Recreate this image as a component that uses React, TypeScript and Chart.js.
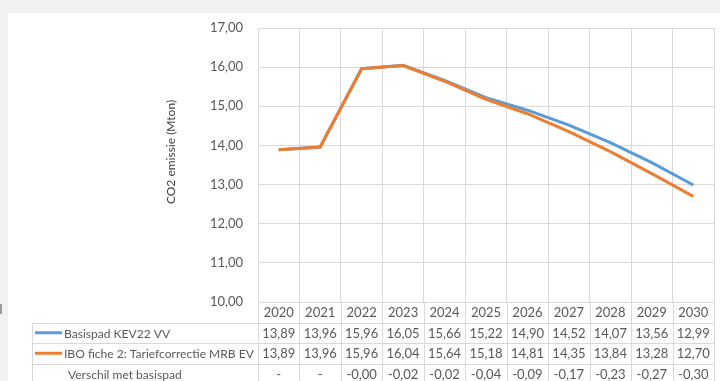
import React, { useEffect, useRef } from 'react';
import { Chart, registerables } from 'chart.js';

Chart.register(...registerables);

const years = ['2020', '2021', '2022', '2023', '2024', '2025', '2026', '2027', '2028', '2029', '2030'];
const basispad = [13.89, 13.96, 15.96, 16.05, 15.66, 15.22, 14.90, 14.52, 14.07, 13.56, 12.99];
const ibo = [13.89, 13.96, 15.96, 16.04, 15.64, 15.18, 14.81, 14.35, 13.84, 13.28, 12.70];
const verschil = ['-', '-', '-0,00', '-0,02', '-0,02', '-0,04', '-0,09', '-0,17', '-0,23', '-0,27', '-0,30'];
const seriesNames = ['Basispad KEV22 VV', 'IBO fiche 2: Tariefcorrectie MRB EV', 'Verschil met basispad'];
const yTitle = 'CO2 emissie (Mton)';

const BLUE = '#5b9bd5';
const ORANGE = '#ed7d31';
const GRID = '#d9d9d9';
const TEXT = '#595959';
const FONT = 'Lato, "Open Sans", sans-serif';

const fmt = (v: number) => v.toFixed(2).replace('.', ',');

const tablePlugin = {
  id: 'dataTable',
  beforeDraw(chart: any) {
    const { ctx, width, height } = chart;
    ctx.save();
    ctx.fillStyle = '#f2f2f2';
    ctx.fillRect(0, 0, width, height);
    ctx.fillStyle = '#ffffff';
    ctx.fillRect(8, 13, width - 8, height - 13);
    ctx.fillStyle = '#9a9a9a';
    ctx.fillRect(0, 304, 2, 10);
    ctx.restore();
  },
  afterDraw(chart: any) {
    const { ctx, chartArea, height } = chart;
    const xs = chart.scales.x;
    const n = years.length;
    const half = (xs.getPixelForValue(1) - xs.getPixelForValue(0)) / 2;
    const bounds: number[] = [];
    for (let i = 0; i < n; i++) bounds.push(xs.getPixelForValue(i) - half);
    bounds.push(xs.getPixelForValue(n - 1) + half);
    const top = chartArea.bottom;
    const rowH = 20.5;
    const rows = [top, top + rowH, top + 2 * rowH, top + 3 * rowH, top + 4 * rowH];
    const tableLeft = 32;

    ctx.save();
    ctx.strokeStyle = GRID;
    ctx.lineWidth = 1;
    ctx.beginPath();
    for (const b of bounds) {
      const bx = Math.round(b) + 0.5;
      ctx.moveTo(bx, top);
      ctx.lineTo(bx, height);
    }
    ctx.moveTo(tableLeft + 0.5, Math.round(rows[1]) + 0.5);
    ctx.lineTo(tableLeft + 0.5, height);
    for (let r = 1; r <= 3; r++) {
      const ry = Math.round(rows[r]) + 0.5;
      ctx.moveTo(tableLeft, ry);
      ctx.lineTo(Math.round(bounds[n]) + 1, ry);
    }
    ctx.stroke();

    ctx.font = `13px ${FONT}`;
    ctx.fillStyle = TEXT;
    ctx.textBaseline = 'middle';
    ctx.textAlign = 'center';
    const rowData = [years, basispad.map(fmt), ibo.map(fmt), verschil];
    rowData.forEach((arr, r) => {
      const cy = (rows[r] + rows[r + 1]) / 2 + 1;
      arr.forEach((t, i) => {
        ctx.fillText(t, xs.getPixelForValue(i), cy);
      });
    });

    // legend column: fit longest name into the available width
    const longest = ctx.measureText(seriesNames[1]).width;
    const legSize = Math.min(13, (13 * 190) / longest);
    ctx.font = `${legSize}px ${FONT}`;
    ctx.textAlign = 'left';
    const legendColors = [BLUE, ORANGE, null];
    seriesNames.forEach((name, k) => {
      const cy = (rows[k + 1] + rows[k + 2]) / 2 + 1;
      const col = legendColors[k];
      if (col) {
        ctx.strokeStyle = col;
        ctx.lineWidth = 3;
        ctx.beginPath();
        ctx.moveTo(35, cy - 1);
        ctx.lineTo(62, cy - 1);
        ctx.stroke();
        ctx.fillStyle = TEXT;
        ctx.fillText(name, 64, cy);
      } else {
        ctx.fillStyle = TEXT;
        ctx.fillText(name, 68, cy);
      }
    });

    // y axis title
    ctx.save();
    ctx.translate(171, 152);
    ctx.rotate(-Math.PI / 2);
    ctx.textAlign = 'center';
    ctx.font = `12px ${FONT}`;
    ctx.fillStyle = '#404040';
    ctx.fillText(yTitle, 0, 0);
    ctx.restore();

    ctx.restore();
  },
};

export default function App() {
  const ref = useRef<HTMLCanvasElement | null>(null);

  useEffect(() => {
    if (!ref.current) return;
    const chart = new Chart(ref.current, {
      type: 'line',
      data: {
        labels: years,
        datasets: [
          {
            label: seriesNames[0],
            data: basispad,
            borderColor: BLUE,
            backgroundColor: BLUE,
            borderWidth: 3,
            pointRadius: 0,
            tension: 0,
            order: 1,
          },
          {
            label: seriesNames[1],
            data: ibo,
            borderColor: ORANGE,
            backgroundColor: ORANGE,
            borderWidth: 3,
            pointRadius: 0,
            tension: 0,
            order: 0,
          },
        ],
      },
      options: {
        responsive: false,
        animation: false,
        layout: { padding: { left: 0, top: 28, right: 6, bottom: 79 } },
        plugins: {
          legend: { display: false },
          tooltip: { enabled: false },
        },
        scales: {
          x: {
            offset: true,
            grid: { offset: true, color: GRID, drawTicks: false },
            border: { color: GRID },
            ticks: { display: false },
            afterFit: (s: any) => {
              s.height = 0;
            },
          },
          y: {
            min: 10,
            max: 17,
            grid: { color: GRID, drawTicks: false },
            border: { color: GRID },
            ticks: {
              stepSize: 1,
              padding: 15,
              color: TEXT,
              font: { family: FONT, size: 13 },
              callback: (v: any) => fmt(Number(v)),
            },
            afterFit: (s: any) => {
              s.width = 258;
            },
          },
        },
      },
      plugins: [tablePlugin],
    });
    return () => chart.destroy();
  }, []);

  return (
    <div style={{ position: 'fixed', left: 0, top: 0, width: 720, height: 381, overflow: 'hidden' }}>
      <canvas ref={ref} width={720} height={381} style={{ display: 'block' }} />
    </div>
  );
}
